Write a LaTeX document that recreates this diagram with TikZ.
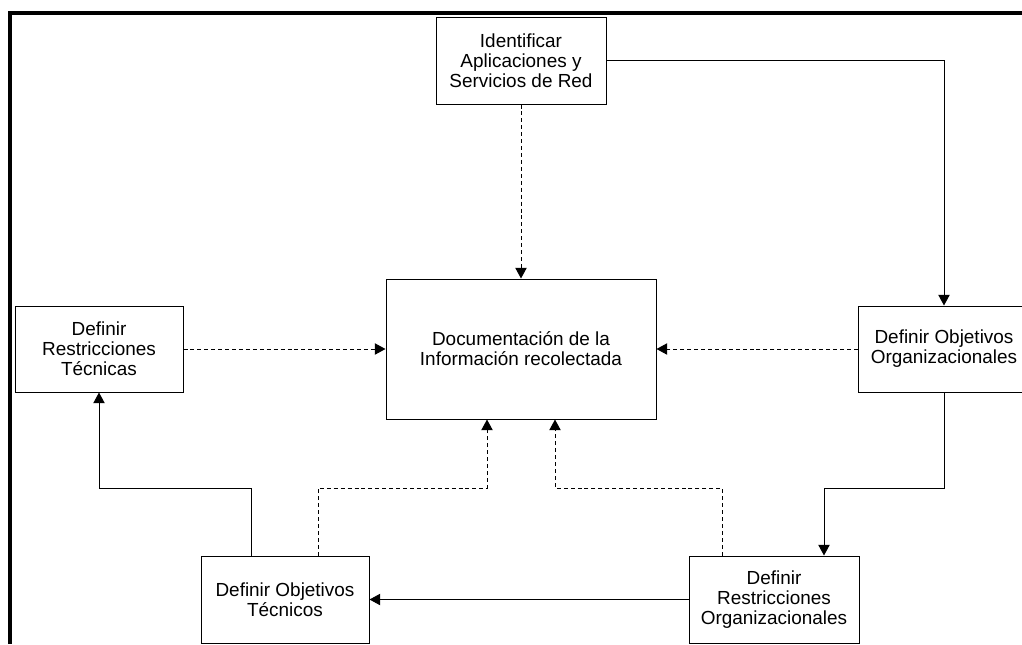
\documentclass[tikz,border=0pt]{standalone}
\usepackage{fontspec}
\setmainfont{Liberation Sans}
\usetikzlibrary{arrows.meta,calc}
\tikzset{
  box/.style={draw=black, line width=0.75pt, fill=white, rectangle, inner sep=0pt,
    align=center, font=\fontsize{14.2}{15.1}\selectfont},
  link/.style={draw=black, line width=0.75pt, -{Triangle[length=8pt,width=8.5pt]}},
  dlink/.style={link, dash pattern=on 3pt off 2.2pt},
  frameline/.style={line width=3pt, draw=black}
}
\begin{document}
\begin{tikzpicture}[x=0.75pt,y=-0.75pt]
\useasboundingbox (0,0) rectangle (1022,644);

% frame
\draw[frameline] (10,644) -- (10,13) -- (1022,13);

% process boxes
\node[box, minimum width=127.5pt, minimum height=65.25pt] (ident) at (521,60.5)
  {Identificar\\Aplicaciones y\\Servicios de Red};
\node[box, minimum width=202.5pt, minimum height=105pt] (doc) at (521,349)
  {Documentación de la\\Información recolectada};
\node[box, minimum width=126pt, minimum height=64.5pt] (rtec) at (99,349)
  {Definir\\Restricciones\\Técnicas};
\node[box, minimum width=129pt, minimum height=64.5pt] (oorg) at (944,349)
  {Definir Objetivos\\Organizacionales};
\node[box, minimum width=126pt, minimum height=65.25pt] (otec) at (285,599.5)
  {Definir Objetivos\\Técnicos};
\node[box, minimum width=127.5pt, minimum height=65.25pt] (rorg) at (774,599.5)
  {Definir\\Restricciones\\Organizacionales};

% level of the lower elbows
\coordinate (lvl) at (0,488);

% connectors
\draw[dlink] (ident.south) -- (doc.north);
\draw[link] (ident.east) -| (oorg.north);
\draw[dlink] (rtec.east) -- (doc.west);
\draw[dlink] (oorg.west) -- (doc.east);
\draw[link] (oorg.south) -- (oorg.south |- lvl) -| ([xshift=37.5pt]rorg.north);
\draw[link] (rorg.west) -- (otec.east);
\draw[link] ([xshift=-25.5pt]otec.north) coordinate (a) -- (a |- lvl) -| (rtec.south);
\draw[dlink] ([xshift=24.75pt]otec.north) coordinate (b) -- (b |- lvl) -| ([xshift=-25.5pt]doc.south);
\draw[dlink] ([xshift=-39pt]rorg.north) coordinate (c) -- (c |- lvl) -| ([xshift=25.5pt]doc.south);
\end{tikzpicture}
\end{document}
